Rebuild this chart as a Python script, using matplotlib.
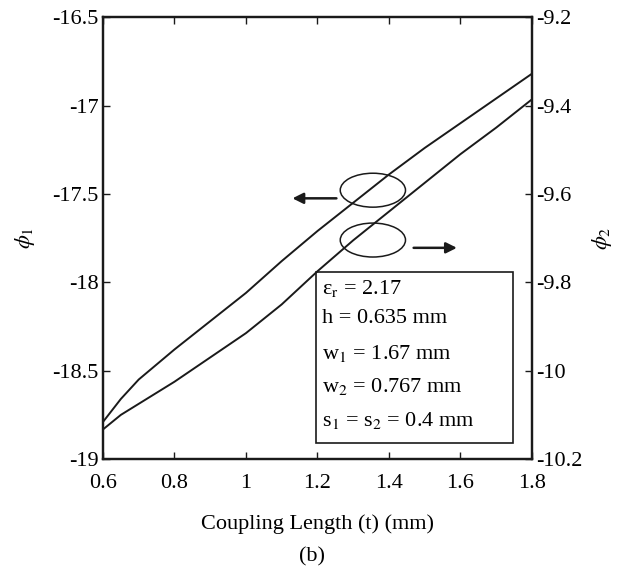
import matplotlib
matplotlib.use("Agg")
import matplotlib.pyplot as plt
from matplotlib.patches import Ellipse, Rectangle

plt.rcParams['font.family'] = ['Liberation Serif', 'DejaVu Serif']
plt.rcParams['mathtext.fontset'] = 'stix'
plt.rcParams['font.size'] = 16

# coupling length (mm)
t = [0.6, 0.65, 0.7, 0.8, 0.9, 1.0, 1.1, 1.2, 1.3, 1.4, 1.5, 1.6, 1.7, 1.8]
# phase of port 1 (left axis)
phi1 = [-18.79, -18.66, -18.55, -18.38, -18.22, -18.06, -17.88, -17.71,
        -17.55, -17.39, -17.24, -17.10, -16.96, -16.82]
# phase of port 2 (right axis)
phi2 = [-10.133, -10.10, -10.075, -10.025, -9.97, -9.915, -9.85, -9.775,
        -9.705, -9.64, -9.575, -9.51, -9.45, -9.386]

xticks = [0.6, 0.8, 1.0, 1.2, 1.4, 1.6, 1.8]
xtick_labels = ['0.6', '0.8', '1', '1.2', '1.4', '1.6', '1.8']
y1ticks = [-19, -18.5, -18, -17.5, -17, -16.5]
y1tick_labels = ['-19', '-18.5', '-18', '-17.5', '-17', '-16.5']
y2ticks = [-10.2, -10.0, -9.8, -9.6, -9.4, -9.2]
y2tick_labels = ['-10.2', '-10', '-9.8', '-9.6', '-9.4', '-9.2']

params = [r'ε$_\mathrm{r}$ = 2.17',
          'h = 0.635 mm',
          r'w$_1$ = 1.67 mm',
          r'w$_2$ = 0.767 mm',
          r's$_1$ = s$_2$ = 0.4 mm']
param_y = [0.385, 0.319, 0.240, 0.165, 0.088]

fig = plt.figure(figsize=(6.24, 5.71), dpi=100)
ax = fig.add_axes([0.165, 0.196, 0.6875, 0.774])
ax2 = ax.twinx()

ax.plot(t, phi1, color='#1a1a1a', lw=1.4)
ax2.plot(t, phi2, color='#1a1a1a', lw=1.4)

ax.set_xlim(0.6, 1.8)
ax.set_ylim(-19, -16.5)
ax2.set_ylim(-10.2, -9.2)

ax.set_xticks(xticks)
ax.set_xticklabels(xtick_labels)
ax.set_yticks(y1ticks)
ax.set_yticklabels(y1tick_labels)
ax2.set_yticks(y2ticks)
ax2.set_yticklabels(y2tick_labels)

ax.tick_params(axis='x', direction='in', length=5, width=1, top=True, pad=11,
               labelsize=16, color='#1a1a1a')
ax.tick_params(axis='y', direction='in', length=5, width=1, pad=3,
               labelsize=16, color='#1a1a1a')
ax2.tick_params(axis='y', direction='in', length=5, width=1, pad=3,
                labelsize=16, color='#1a1a1a')
for a in (ax, ax2):
    for s in a.spines.values():
        s.set_linewidth(1.6)
        s.set_color('#1a1a1a')

ax.set_xlabel('Coupling Length (t) (mm)', fontsize=16)
ax.xaxis.set_label_coords(0.5, -0.125)
ax.set_ylabel(r'$\phi_1$', fontsize=16)
ax.yaxis.set_label_coords(-0.154, 0.5)
ax2.set_ylabel(r'$\phi_2$', fontsize=16)
ax2.yaxis.set_label_coords(1.135, 0.5)

# ellipses marking which curve belongs to which axis
ax.add_patch(Ellipse((1.355, -17.479), 0.1825, 0.192, fill=False,
                     ec='#1a1a1a', lw=1.1))
ax.add_patch(Ellipse((1.355, -17.761), 0.1825, 0.192, fill=False,
                     ec='#1a1a1a', lw=1.1))
ax.annotate('', xy=(1.130, -17.525), xytext=(1.253, -17.525),
            arrowprops=dict(arrowstyle='-|>', color='#1a1a1a', lw=1.8,
                            mutation_scale=16, shrinkA=0, shrinkB=0))
ax.annotate('', xy=(1.590, -17.805), xytext=(1.469, -17.805),
            arrowprops=dict(arrowstyle='-|>', color='#1a1a1a', lw=1.8,
                            mutation_scale=16, shrinkA=0, shrinkB=0))

# parameter box
ax.add_patch(Rectangle((0.4965, 0.0355), 0.46, 0.388, transform=ax.transAxes,
                       fill=True, fc='white', ec='#1a1a1a', lw=1.2, zorder=3))
for txt, yy in zip(params, param_y):
    ax.text(0.51, yy, txt, transform=ax.transAxes, fontsize=16,
            va='center', ha='left', zorder=4)

fig.text(0.5, 0.024, '(b)', ha='center', va='center', fontsize=16)

fig.savefig('out.png', dpi=100)
